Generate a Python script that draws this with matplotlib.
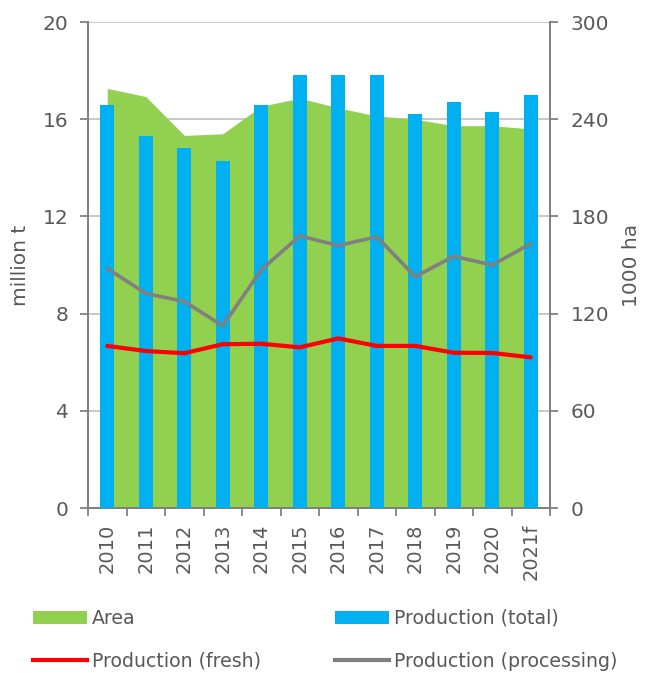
import matplotlib
matplotlib.use("Agg")
import matplotlib.pyplot as plt
from matplotlib.patches import Patch
from matplotlib.lines import Line2D
import numpy as np

# data
years = ['2010', '2011', '2012', '2013', '2014', '2015', '2016', '2017',
         '2018', '2019', '2020', '2021f']
area = [259, 254, 230, 231, 248, 253, 247, 242, 240, 236, 236, 234]          # 1000 ha
prod_total = [16.6, 15.3, 14.8, 14.3, 16.6, 17.8, 17.8, 17.8, 16.2, 16.7, 16.3, 17.0]
prod_fresh = [6.67, 6.46, 6.37, 6.74, 6.76, 6.61, 6.98, 6.67, 6.67, 6.39, 6.38, 6.20]
prod_processing = [9.86, 8.83, 8.5, 7.5, 9.8, 11.2, 10.8, 11.16, 9.52, 10.36, 10.0, 10.88]

GREEN = '#92D050'
BLUE = '#00B0F0'
RED = '#FF0000'
GREY = '#808080'
TXT = '#595959'

plt.rcParams['font.family'] = 'DejaVu Sans'

fig = plt.figure(figsize=(6.46, 6.73), dpi=100)
ax = fig.add_axes([88 / 646, 1 - 508 / 673, 462 / 646, 486 / 673])
ax2 = ax.twinx()
# bars and lines in front of the area
ax.set_zorder(ax2.get_zorder() + 1)
ax.patch.set_visible(False)

x = np.arange(len(years))

# Area (right axis)
ax2.fill_between(x, area, 0, color=GREEN, linewidth=0, zorder=2)
ax2.set_ylim(0, 300)
ax2.set_yticks(range(0, 301, 60))
ax2.yaxis.grid(True, color='#BFBFBF', linewidth=1.2, zorder=0)
ax2.set_axisbelow(True)

# Production
ax.bar(x, prod_total, width=0.36, color=BLUE, zorder=3)
ax.plot(x, prod_fresh, color=RED, linewidth=3, solid_joinstyle='round',
        solid_capstyle='round', zorder=4)
ax.plot(x, prod_processing, color=GREY, linewidth=2.6, solid_joinstyle='round',
        solid_capstyle='round', zorder=4)

ax.set_ylim(0, 20)
ax.set_yticks(range(0, 21, 4))
ax.set_xlim(-0.5, len(years) - 0.5)
ax.set_xticks(x)
ax.set_xticklabels(years, rotation=90)
ax.set_xticks(np.arange(-0.5, len(years)), minor=True)

for a in (ax, ax2):
    for s in a.spines.values():
        s.set_color(GREY)
        s.set_linewidth(1.3)
    a.spines['top'].set_visible(False)

ax.tick_params(axis='x', which='major', length=0, pad=11, labelsize=14, labelcolor=TXT)
ax.tick_params(axis='x', which='minor', length=6, width=1.3, color=GREY)
ax.tick_params(axis='y', length=6, width=1.3, color=GREY, labelsize=14.5,
               labelcolor=TXT, pad=8)
ax2.tick_params(axis='y', length=6, width=1.3, color=GREY, labelsize=14.5,
                labelcolor=TXT, pad=9)

ax.set_ylabel('million t', fontsize=14.5, color=TXT, labelpad=9)
ax2.set_ylabel('1000 ha', fontsize=14.5, color=TXT, labelpad=9)

# legend in two columns
h_area = Patch(facecolor=GREEN, edgecolor='none')
h_total = Patch(facecolor=BLUE, edgecolor='none')
h_fresh = Line2D([], [], color=RED, linewidth=3)
h_proc = Line2D([], [], color=GREY, linewidth=3)

leg_kw = dict(frameon=False, fontsize=13.6, handlelength=2.85, handletextpad=0.28,
              labelspacing=1.25, borderpad=0, borderaxespad=0, loc='upper left',
              labelcolor=TXT)
fig.legend([h_area, h_fresh], ['Area', 'Production (fresh)'],
           bbox_to_anchor=(33 / 646, 1 - 609 / 673), **leg_kw)
fig.legend([h_total, h_proc], ['Production (total)', 'Production (processing)'],
           bbox_to_anchor=(335 / 646, 1 - 609 / 673), **leg_kw)

fig.savefig('out.png', dpi=100)
